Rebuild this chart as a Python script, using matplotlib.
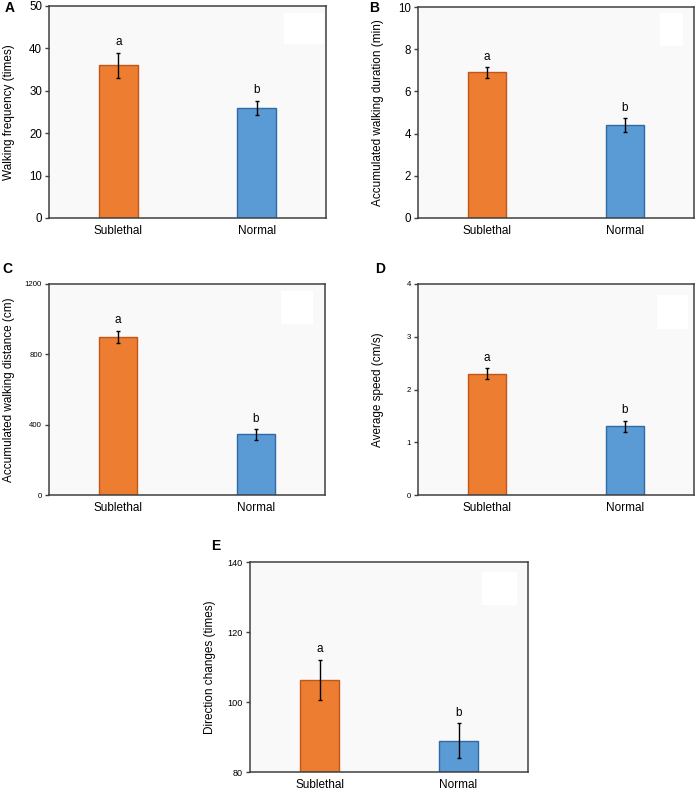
import matplotlib
matplotlib.use("Agg")
import matplotlib.pyplot as plt
from matplotlib.patches import Rectangle

plt.rcParams['font.family'] = ['Liberation Sans', 'DejaVu Sans']

groups = ["Sublethal", "Normal"]
letters = ["a", "b"]

walk_freq = [36.0, 26.0]
walk_freq_err = [3.0, 1.7]
walk_dur = [6.9, 4.4]
walk_dur_err = [0.25, 0.32]
walk_dist = [900, 345]
walk_dist_err = [35, 30]
avg_speed = [2.30, 1.30]
avg_speed_err = [0.10, 0.11]
dir_changes = [106.3, 89.0]
dir_changes_err = [5.8, 5.0]

W, H = 697, 792
ORANGE, ORANGE_EDGE = "#ED7D31", "#C0561A"
BLUE, BLUE_EDGE = "#5B9BD5", "#2F6AA3"

# panel: letter, values, errors, ylabel, ylim, yticks, tick font size,
# axes box in pixels (x0, x1, y_top, y_bottom), blank box (axes fraction), letter pos
panels = [
    ("A", walk_freq, walk_freq_err, "Walking frequency (times)", (0, 50),
     [0, 10, 20, 30, 40, 50], 8.3, (49, 326, 6, 218), (0.848, 0.821, 0.145, 0.146), (5, 15)),
    ("B", walk_dur, walk_dur_err, "Accumulated walking duration (min)", (0, 10),
     [0, 2, 4, 6, 8, 10], 8.3, (418, 694, 7, 218), (0.877, 0.815, 0.082, 0.157), (369, 15)),
    ("C", walk_dist, walk_dist_err, "Accumulated walking distance (cm)", (0, 1200),
     [0, 400, 800, 1200], 5.6, (49, 325, 284, 495), (0.841, 0.810, 0.117, 0.158), (2, 276)),
    ("D", avg_speed, avg_speed_err, "Average speed (cm/s)", (0, 4),
     [0, 1, 2, 3, 4], 5.6, (418, 694, 284, 495), (0.865, 0.787, 0.115, 0.161), (375, 276)),
    ("E", dir_changes, dir_changes_err, "Direction changes (times)", (80, 140),
     [80, 100, 120, 140], 6.6, (250, 528, 562, 772), (0.835, 0.794, 0.126, 0.159), (211, 553)),
]

fig = plt.figure(figsize=(W / 100, H / 100), dpi=100)

for letter, vals, errs, ylabel, ylim, yticks, tfs, box, blank, lpos in panels:
    x0, x1, yt, yb = box
    ax = fig.add_axes([x0 / W, 1 - yb / H, (x1 - x0) / W, (yb - yt) / H])
    ax.set_facecolor("#F9F9F9")
    xs = list(range(len(groups)))
    ax.bar(xs, [v - ylim[0] for v in vals], bottom=ylim[0], width=0.28,
           color=[ORANGE, BLUE], edgecolor=[ORANGE_EDGE, BLUE_EDGE], linewidth=1, zorder=2)
    ax.errorbar(xs, vals, yerr=errs, fmt="none", ecolor="black", elinewidth=1,
                capsize=1.5, capthick=1, zorder=3)
    for x, v, e, t in zip(xs, vals, errs, letters):
        ax.annotate(t, (x, v + e), xytext=(0, 3), textcoords="offset points",
                    ha="center", va="bottom", fontsize=8.5)
    ax.add_patch(Rectangle((blank[0], blank[1]), blank[2], blank[3], transform=ax.transAxes,
                           facecolor="white", edgecolor="none", zorder=1))
    ax.set_xlim(-0.5, 1.5)
    ax.set_ylim(*ylim)
    ax.set_yticks(yticks)
    ax.set_xticks(xs)
    ax.set_xticklabels(groups, fontsize=8.5)
    ax.tick_params(axis="x", length=0, pad=5)
    ax.tick_params(axis="y", direction="out", length=3, width=1, labelsize=tfs, pad=2, color="#404040")
    for s in ax.spines.values():
        s.set_color("#404040")
        s.set_linewidth(1.1)
    ax.set_ylabel(ylabel, fontsize=8.5)
    ax.yaxis.set_label_coords(-34 / (x1 - x0), 0.5)
    fig.text(lpos[0] / W, 1 - lpos[1] / H, letter, fontsize=10, fontweight="bold",
             ha="left", va="bottom")

fig.savefig("out.png", dpi=100)
